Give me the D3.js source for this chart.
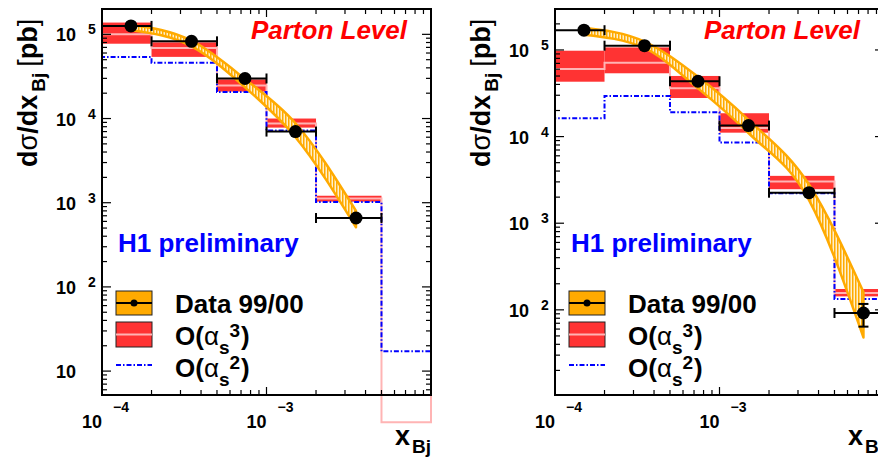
<!DOCTYPE html>
<html>
<head>
<meta charset="utf-8">
<script src="https://cdn.jsdelivr.net/npm/d3@7"></script>
<style>
body { margin: 0; background: #fff; }
svg { display: block; font-family: "Liberation Sans", Arial, sans-serif; }
</style>
</head>
<body>
<svg width="878" height="457"></svg>
<script>
// bin edges in x_Bj (same for both panels)
let binEdges = [1e-4, 2e-4, 5e-4, 1e-3, 2e-3, 5e-3, 1e-2]

// left panel
let leftDataX = [1.5e-4, 3.5e-4, 7.4e-4, 1.5e-3, 3.5e-3]
let leftDataY = [1.26e5, 8.26e4, 2.99e4, 7.0e3, 658]
let leftDataLo = [1.21e5, 7.9e4, 2.86e4, 6.7e3, 625]
let leftDataHi = [1.31e5, 8.6e4, 3.12e4, 7.3e3, 690]
let leftBandLo = [1.12e5, 7.2e4, 2.35e4, 6.0e3, 510]
let leftBandHi = [1.3e5, 8.4e4, 2.95e4, 8.8e3, 800]
let leftNloLo = [7.74e4, 5.4e4, 2.09e4, 7.8e3, 1.03e3, 2.2]
let leftNloHi = [1.38e5, 8.03e4, 2.91e4, 1.0e4, 1.21e3, 2.8]
let leftNloMid = [1.0e5, 6.9e4, 2.47e4, 8.7e3, 1.12e3, 2.47]
let leftLo = [5.37e4, 4.6e4, 2.06e4, 7.2e3, 1.02e3, 17.2]

// right panel
let rightDataX = [1.5e-4, 3.5e-4, 7.4e-4, 1.5e-3, 3.5e-3, 7.5e-3]
let rightDataY = [1.69e5, 1.12e5, 4.35e4, 1.34e4, 2.25e3, 92]
let rightDataLo = [1.62e5, 1.07e5, 4.15e4, 1.28e4, 2.15e3, 64]
let rightDataHi = [1.76e5, 1.17e5, 4.55e4, 1.4e4, 2.35e3, 117]
let rightBandLo = [1.5e5, 1.05e5, 3.6e4, 1.1e4, 1.85e3, 48]
let rightBandHi = [1.8e5, 1.25e5, 4.9e4, 1.56e4, 2.8e3, 160]
let rightNloLo = [4.3e4, 5.38e4, 2.79e4, 1.11e4, 2.47e3, 143]
let rightNloHi = [9.8e4, 1.07e5, 5.01e4, 1.86e4, 3.52e3, 174]
let rightNloMid = [6.04e4, 7.14e4, 3.61e4, 1.26e4, 3.03e3, 156]
let rightLo = [1.63e4, 2.94e4, 1.91e4, 8.53e3, 2.22e3, 133]

let xTickExps = [-4, -3]
let leftYTickExps = [1, 2, 3, 4, 5]
let rightYTickExps = [2, 3, 4, 5]
let legendLabels = ['Data 99/00', 'O(αs3)', 'O(αs2)']

let orange = '#ffaa00'
let red = '#ff3333'
let pink = '#ffb4b4'
let blue = '#0000ff'

let plotTop = 9
let plotBottom = 395
let panelWidth = 329

let svg = d3.select('svg')
svg.append('rect').attr('width', 878).attr('height', 457).attr('fill', '#fff')

let defs = svg.append('defs')
let hatch = defs.append('pattern')
  .attr('id', 'hatch')
  .attr('patternUnits', 'userSpaceOnUse')
  .attr('width', 3)
  .attr('height', 6)
hatch.append('rect').attr('width', 3).attr('height', 6).attr('fill', '#fff0cc')
hatch.append('rect').attr('width', 1.5).attr('height', 6).attr('fill', orange)

let supLabel = (g, yPos, exp, anchorX, expX, expY) => {
  g.append('text')
    .attr('x', anchorX).attr('y', yPos)
    .attr('text-anchor', 'end')
    .style('font-size', '18px').style('font-weight', 'bold')
    .text('10')
  if (exp !== null) {
    g.append('text')
      .attr('x', expX).attr('y', expY)
      .style('font-size', '14px').style('font-weight', 'bold')
      .text(exp)
  }
}

let drawPanel = (p) => {
  let x0 = p.left
  let x1 = p.left + panelWidth
  let g = svg.append('g')

  let xScale = d3.scaleLog().domain([1e-4, 1e-2]).range([x0, x1])
  let yScale = d3.scaleLog().domain(p.yDomain).range([plotBottom, plotTop])

  let clipId = 'clip' + p.name
  defs.append('clipPath').attr('id', clipId)
    .append('rect').attr('x', x0).attr('y', plotTop).attr('width', panelWidth).attr('height', plotBottom - plotTop)

  let nBins = binEdges.length - 1
  let bins = d3.range(nBins)

  // O(alpha_s^3) boxes
  g.append('g').attr('clip-path', 'url(#' + clipId + ')')
    .selectAll('rect')
    .data(bins)
    .enter()
    .append('rect')
    .attr('x', (i) => xScale(binEdges[i]))
    .attr('width', (i) => xScale(binEdges[i + 1]) - xScale(binEdges[i]))
    .attr('y', (i) => yScale(p.nloHi[i]))
    .attr('height', (i) => yScale(p.nloLo[i]) - yScale(p.nloHi[i]))
    .attr('fill', red)

  let stepPoints = (vals) => {
    let pts = [[xScale(binEdges[0]), plotBottom]]
    vals.forEach((v, i) => {
      pts.push([xScale(binEdges[i]), yScale(v)])
      pts.push([xScale(binEdges[i + 1]), yScale(v)])
    })
    pts.push([xScale(binEdges[nBins]), plotBottom])
    return pts
  }

  // central NLO line (not clipped, as in the original)
  g.append('path')
    .attr('d', d3.line()(stepPoints(p.nloMid)))
    .attr('fill', 'none')
    .attr('stroke', pink)
    .attr('stroke-width', 2)

  // O(alpha_s^2) line
  g.append('path')
    .attr('d', d3.line()(stepPoints(p.lo)))
    .attr('fill', 'none')
    .attr('stroke', blue)
    .attr('stroke-width', 2)
    .attr('stroke-dasharray', '5,2,1.5,2')

  // data uncertainty band
  let bandData = p.dataX.map((d, i) => ({ x: d, lo: p.bandLo[i], hi: p.bandHi[i] }))
  let area = d3.area()
    .x((d) => xScale(d.x))
    .y0((d) => yScale(d.lo))
    .y1((d) => yScale(d.hi))
    .curve(d3.curveMonotoneX)
  g.append('path')
    .attr('clip-path', 'url(#' + clipId + ')')
    .attr('d', area(bandData))
    .attr('fill', 'url(#hatch)')
    .attr('stroke', orange)
    .attr('stroke-width', 2.5)
    .attr('stroke-linejoin', 'round')

  // data points with error bars
  let pts = g.append('g').attr('stroke', 'black').attr('stroke-width', 2)
  p.dataX.forEach((d, i) => {
    let yy = yScale(p.dataY[i])
    let xa = xScale(binEdges[i])
    let xb = xScale(binEdges[i + 1])
    pts.append('line').attr('x1', xa).attr('x2', xb).attr('y1', yy).attr('y2', yy)
    pts.append('line').attr('x1', xa).attr('x2', xa).attr('y1', yy - 5).attr('y2', yy + 5)
    pts.append('line').attr('x1', xb).attr('x2', xb).attr('y1', yy - 5).attr('y2', yy + 5)
    let xc = xScale(d)
    let ylo = yScale(p.dataLo[i])
    let yhi = yScale(p.dataHi[i])
    pts.append('line').attr('x1', xc).attr('x2', xc).attr('y1', yhi).attr('y2', ylo)
    pts.append('line').attr('x1', xc - 5).attr('x2', xc + 5).attr('y1', yhi).attr('y2', yhi)
    pts.append('line').attr('x1', xc - 5).attr('x2', xc + 5).attr('y1', ylo).attr('y2', ylo)
    g.append('circle').attr('cx', xc).attr('cy', yy).attr('r', 6.5).attr('fill', 'black')
  })

  // frame and ticks
  g.append('rect')
    .attr('x', x0).attr('y', plotTop).attr('width', panelWidth).attr('height', plotBottom - plotTop)
    .attr('fill', 'none').attr('stroke', 'black').attr('stroke-width', 2)

  let yMinor = []
  let yMajor = []
  for (let k = 0; k <= 6; k++) {
    for (let m = 1; m <= 9; m++) {
      let v = m * Math.pow(10, k)
      if (v < p.yDomain[0] || v > p.yDomain[1]) continue
      if (m === 1) yMajor.push(v)
      else yMinor.push(v)
    }
  }
  let xMinor = []
  let xMajor = []
  for (let k = -4; k <= -3; k++) {
    for (let m = 1; m <= 9; m++) {
      let v = m * Math.pow(10, k)
      if (m === 1) xMajor.push(v)
      else xMinor.push(v)
    }
  }

  let ticks = g.append('g').attr('stroke', 'black').attr('stroke-width', 1.2)
  yMajor.forEach((v) => {
    ticks.append('line').attr('x1', x0).attr('x2', x0 + 9).attr('y1', yScale(v)).attr('y2', yScale(v))
    ticks.append('line').attr('x1', x1).attr('x2', x1 - 9).attr('y1', yScale(v)).attr('y2', yScale(v))
  })
  yMinor.forEach((v) => {
    ticks.append('line').attr('x1', x0).attr('x2', x0 + 5).attr('y1', yScale(v)).attr('y2', yScale(v))
    ticks.append('line').attr('x1', x1).attr('x2', x1 - 5).attr('y1', yScale(v)).attr('y2', yScale(v))
  })
  xMajor.forEach((v) => {
    ticks.append('line').attr('x1', xScale(v)).attr('x2', xScale(v)).attr('y1', plotBottom).attr('y2', plotBottom - 8)
    ticks.append('line').attr('x1', xScale(v)).attr('x2', xScale(v)).attr('y1', plotTop).attr('y2', plotTop + 8)
  })
  xMinor.forEach((v) => {
    ticks.append('line').attr('x1', xScale(v)).attr('x2', xScale(v)).attr('y1', plotBottom).attr('y2', plotBottom - 5)
    ticks.append('line').attr('x1', xScale(v)).attr('x2', xScale(v)).attr('y1', plotTop).attr('y2', plotTop + 5)
  })

  // tick labels
  p.yTickExps.forEach((e) => {
    let yy = yScale(Math.pow(10, e))
    supLabel(g, yy + 7, e === 1 ? null : String(e), x0 - 26, x0 - 14, yy)
  })
  xTickExps.forEach((e) => {
    let xx = xScale(Math.pow(10, e))
    supLabel(g, 428, '\u2212' + Math.abs(e), xx, xx + 11, 412)
  })

  // axis titles
  let yt = g.append('text')
    .attr('transform', 'translate(' + (x0 - 65) + ',167) rotate(-90)')
    .style('font-size', '27px').style('font-weight', 'bold')
  yt.append('tspan').text('d')
  yt.append('tspan').style('font-weight', 'normal').text('σ')
  yt.append('tspan').text('/dx')
  yt.append('tspan').attr('dy', 8).attr('dx', 3).style('font-size', '19px').text('Bj')
  yt.append('tspan').attr('dy', -8).attr('dx', 6).style('font-weight', 'normal').text('[')
  yt.append('tspan').text('pb')
  yt.append('tspan').style('font-weight', 'normal').text(']')

  let xt = g.append('text')
    .attr('x', x1 - 36).attr('y', 445)
    .style('font-size', '27px').style('font-weight', 'bold')
  xt.append('tspan').text('x')
  xt.append('tspan').attr('dy', 8).attr('dx', 2).style('font-size', '19px').text('Bj')

  g.append('text')
    .attr('x', x1 - 24).attr('y', 39)
    .attr('text-anchor', 'end')
    .style('font-size', '26px').style('font-weight', 'bold').style('font-style', 'italic')
    .attr('fill', '#ff0000')
    .text('Parton Level')

  g.append('text')
    .attr('x', x0 + 16).attr('y', 252)
    .style('font-size', '26px').style('font-weight', 'bold')
    .attr('fill', blue)
    .text('H1 preliminary')

  // legend
  let lx = x0 + 14
  let leg = g.append('g')
  leg.append('rect').attr('x', lx).attr('y', 291).attr('width', 36).attr('height', 24)
    .attr('fill', orange).attr('stroke', '#222').attr('stroke-width', 1)
  leg.append('line').attr('x1', lx).attr('x2', lx + 36).attr('y1', 303).attr('y2', 303)
    .attr('stroke', 'black').attr('stroke-width', 2)
  leg.append('circle').attr('cx', lx + 18).attr('cy', 303).attr('r', 3.5).attr('fill', 'black')
  leg.append('rect').attr('x', lx).attr('y', 322).attr('width', 36).attr('height', 25)
    .attr('fill', red).attr('stroke', '#222').attr('stroke-width', 1)
  leg.append('line').attr('x1', lx).attr('x2', lx + 36).attr('y1', 334.5).attr('y2', 334.5)
    .attr('stroke', pink).attr('stroke-width', 2)
  leg.append('line').attr('x1', lx).attr('x2', lx + 36).attr('y1', 365).attr('y2', 365)
    .attr('stroke', blue).attr('stroke-width', 2).attr('stroke-dasharray', '5,2,1.5,2')

  let tx = x0 + 73
  leg.append('text').attr('x', tx).attr('y', 313)
    .style('font-size', '26px').style('font-weight', 'bold')
    .text(legendLabels[0])
  ;[[legendLabels[1], 345], [legendLabels[2], 377]].forEach(([lab, yy]) => {
    let t = leg.append('text').attr('x', tx).attr('y', yy)
      .style('font-size', '26px').style('font-weight', 'bold')
    t.append('tspan').text(lab.slice(0, 2))
    t.append('tspan').style('font-weight', 'normal').text(lab[2])
    t.append('tspan').attr('dy', 9).style('font-size', '19px').text(lab[3])
    t.append('tspan').attr('dy', -17).style('font-size', '19px').text(lab[4])
    t.append('tspan').attr('dy', 8).attr('dx', 1).text(')')
  })
}

drawPanel({
  name: 'L', left: 102, yDomain: [5.2, 2e5], yTickExps: leftYTickExps,
  dataX: leftDataX, dataY: leftDataY, dataLo: leftDataLo, dataHi: leftDataHi,
  bandLo: leftBandLo, bandHi: leftBandHi,
  nloLo: leftNloLo, nloHi: leftNloHi, nloMid: leftNloMid, lo: leftLo
})
drawPanel({
  name: 'R', left: 555, yDomain: [10.4, 2.97e5], yTickExps: rightYTickExps,
  dataX: rightDataX, dataY: rightDataY, dataLo: rightDataLo, dataHi: rightDataHi,
  bandLo: rightBandLo, bandHi: rightBandHi,
  nloLo: rightNloLo, nloHi: rightNloHi, nloMid: rightNloMid, lo: rightLo
})
</script>
</body>
</html>
